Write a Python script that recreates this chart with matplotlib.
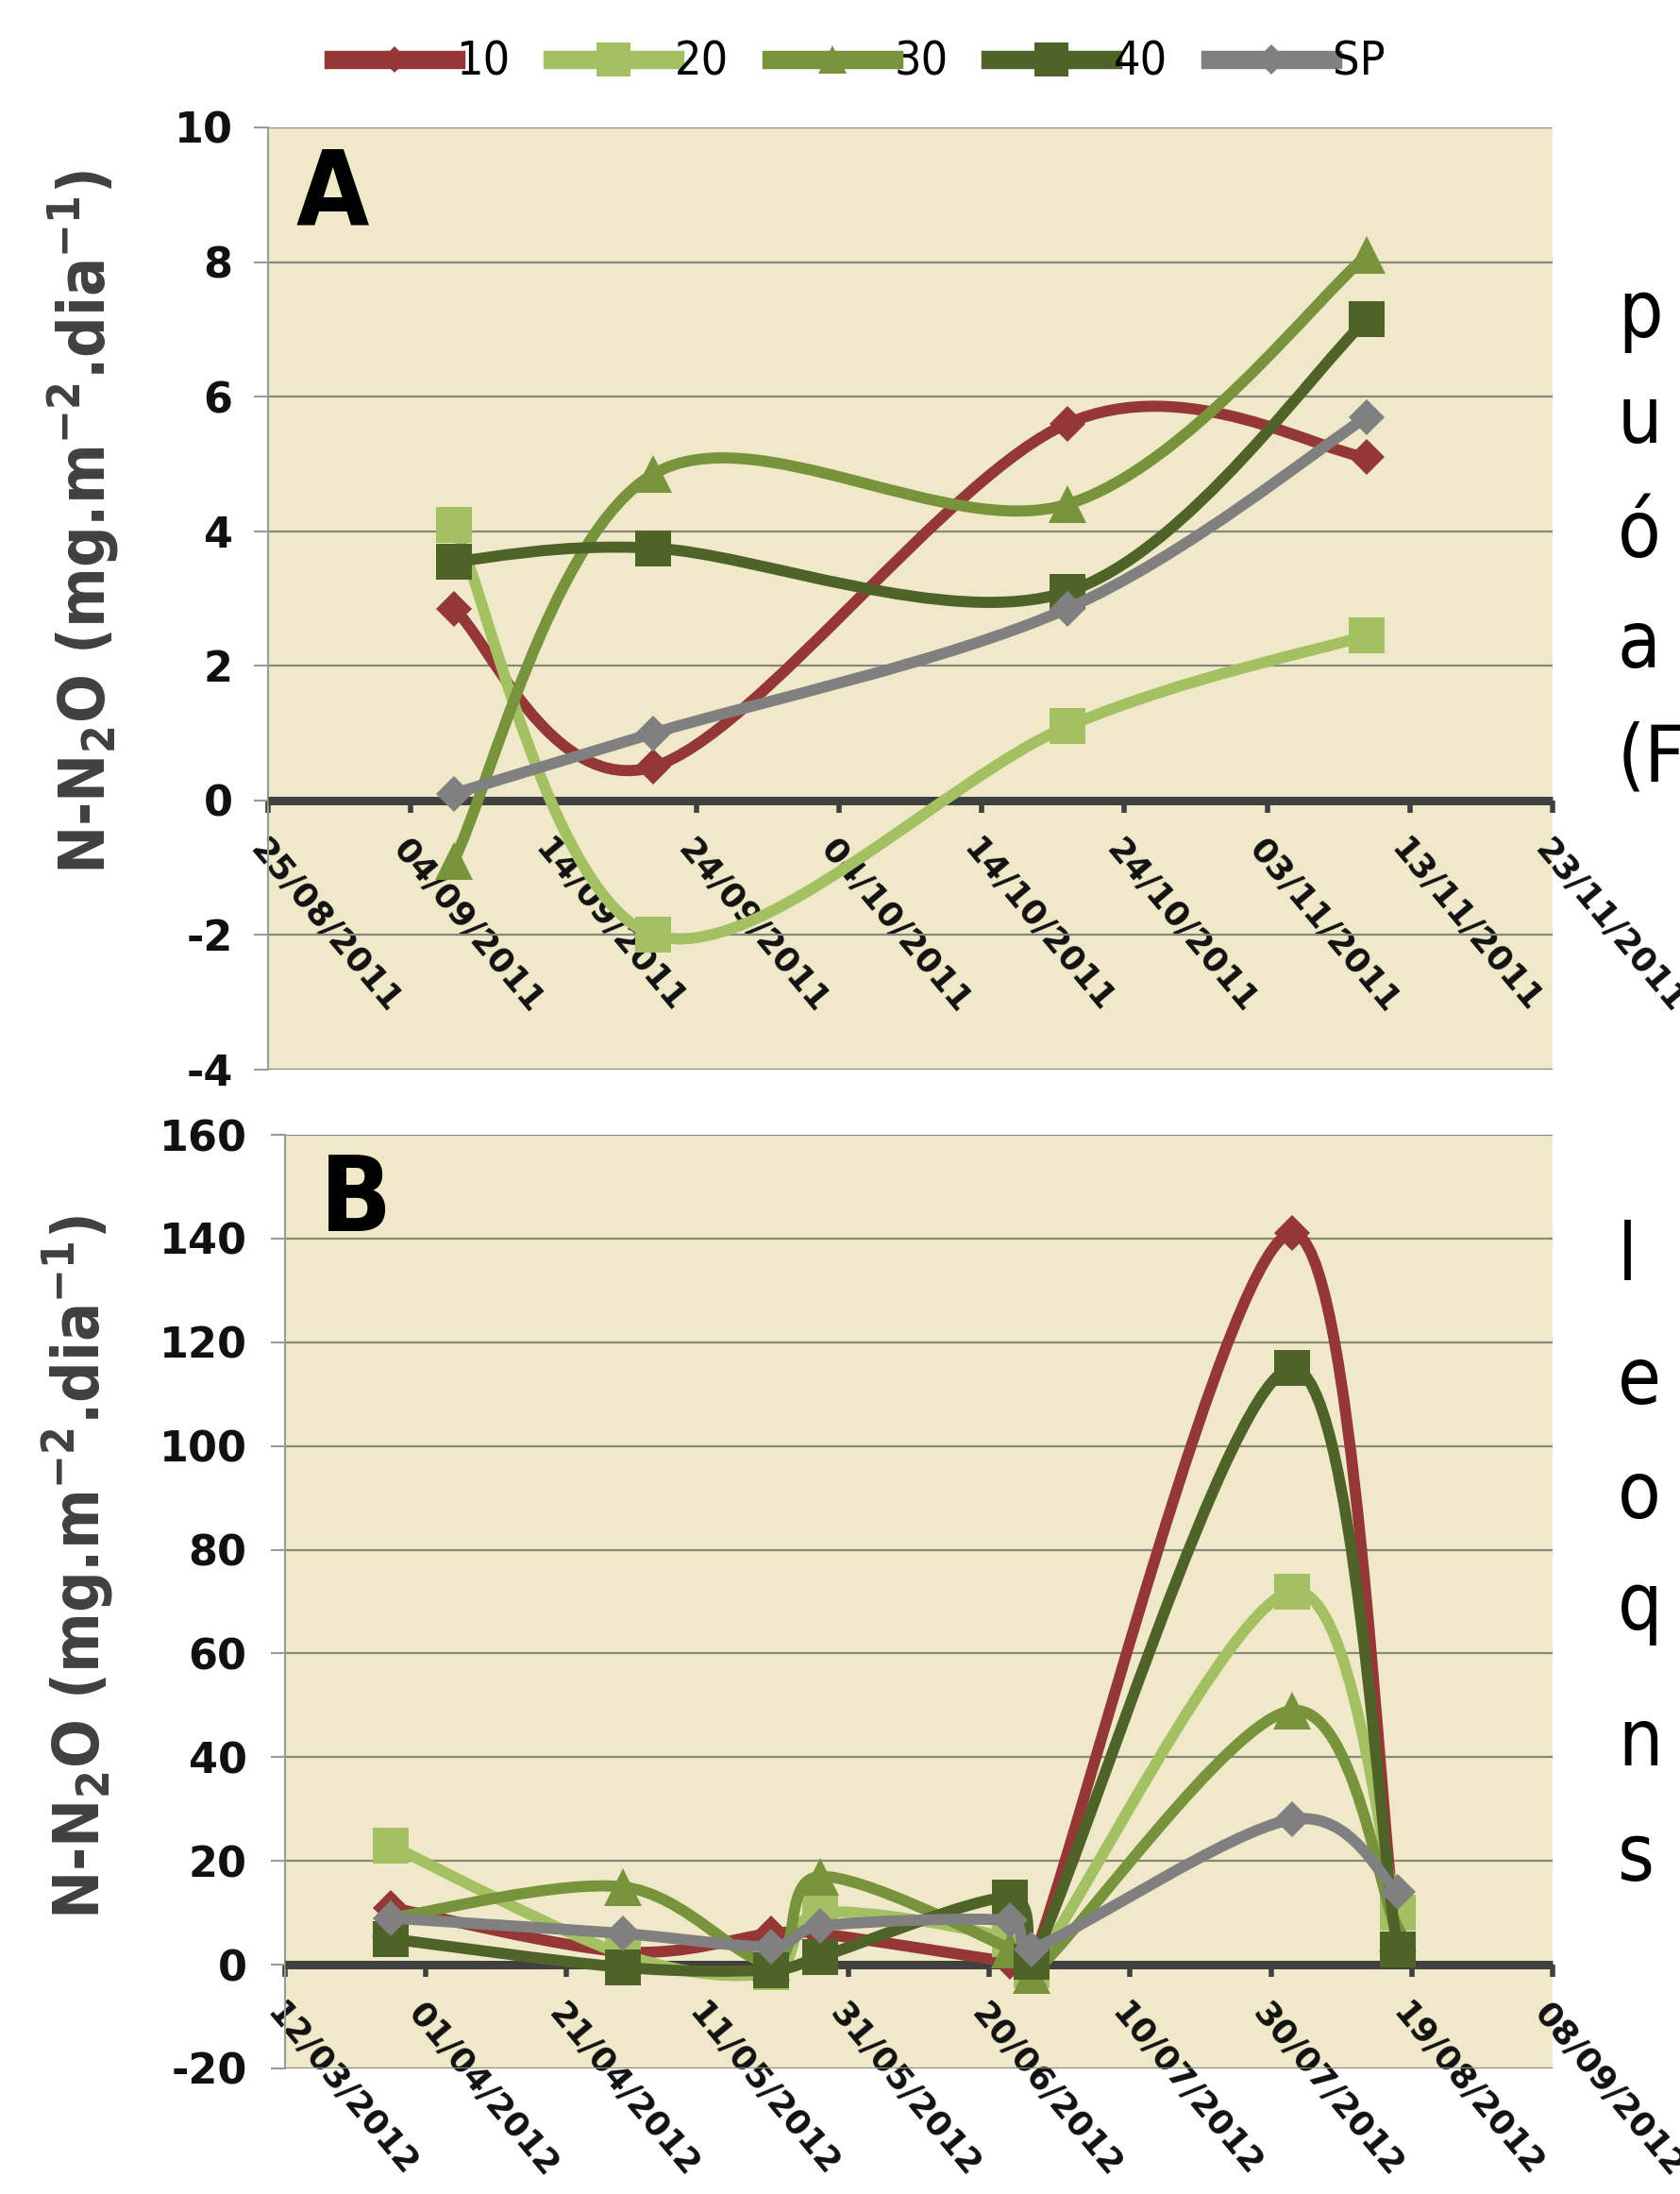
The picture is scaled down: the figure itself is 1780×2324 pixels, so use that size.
import datetime as dt

import matplotlib
matplotlib.use("Agg")
import matplotlib.dates as mdates
import matplotlib.pyplot as plt
import numpy as np
from matplotlib import font_manager
from matplotlib.lines import Line2D
from matplotlib.patches import PathPatch
from matplotlib.path import Path

# series (legend order)
LABELS = ["10", "20", "30", "40", "SP"]
COLORS = ["#953735", "#A3C163", "#77933C", "#4F6228", "#808080"]
MARKERS = ["D", "s", "^", "s", "D"]

# panel A - 2011
DATES_A = ["07/09/2011", "21/09/2011", "20/10/2011", "10/11/2011"]
A_10 = [2.85, 0.5, 5.6, 5.1]
A_20 = [4.1, -2.0, 1.1, 2.45]
A_30 = [-0.9, 4.85, 4.4, 8.1]
A_40 = [3.55, 3.75, 3.1, 7.15]
A_SP = [0.1, 1.0, 2.85, 5.7]

# panel B - 2012
DATES_B = ["27/03/2012", "29/04/2012", "20/05/2012", "27/05/2012",
           "23/06/2012", "26/06/2012", "02/08/2012", "17/08/2012"]
B_10 = [11, 2.5, 6, 6, 0.5, 0, 141, 3]
B_20 = [23, 2, -1.5, 10, 5, -1, 72, 10]
B_30 = [9, 15, 0.5, 17, 3, -2, 49, 6]
B_40 = [5, -0.5, -1, 1.5, 13, 0.5, 115, 3]
B_SP = [9, 6, 3.5, 7.5, 8.5, 3, 28, 14]

# first letters of the page text that runs past the right border
SIDE_TEXT_A = ["p", "u", "ó", "a", "(F"]
SIDE_TEXT_B = ["l", "e", "o", "q", "n", "s"]

W, H = 1780, 2324
BG = "#F0E9C9"
GRID = "#87877C"
DARK = "#404040"

plt.rcParams["axes.unicode_minus"] = False
plt.rcParams["mathtext.default"] = "regular"


def weight_num(w):
    if isinstance(w, (int, float)):
        return int(w)
    return font_manager.weight_dict.get(str(w).lower(), 400)


def pick_narrow():
    # a narrow/condensed family, preferring one that also has a bold face
    found = {}
    for f in font_manager.fontManager.ttflist:
        if "Narrow" in f.name or "Condensed" in f.name:
            key = (f.name, "normal")
        elif f.stretch in ("condensed", "semi-condensed", "extra-condensed"):
            key = (f.name, f.stretch)
        else:
            continue
        found.setdefault(key, set()).add(weight_num(f.weight))
    regular = next(iter(found), ("Liberation Sans", "normal"))
    bold = next((k for k, ws in found.items() if max(ws) >= 600), None)
    return regular, bold


(REG_NAME, REG_STRETCH), BOLD_KEY = pick_narrow()
NARROW_FONT = {"family": [REG_NAME, "DejaVu Sans"], "stretch": REG_STRETCH}
if BOLD_KEY:
    BOLD_FONT = {"family": [BOLD_KEY[0], "DejaVu Sans"], "stretch": BOLD_KEY[1]}
    BOLD_SCALE = 1.0
else:
    BOLD_FONT = {"family": ["Liberation Sans", "DejaVu Sans"]}
    BOLD_SCALE = 0.86


def to_num(dates):
    return [mdates.date2num(dt.datetime.strptime(d, "%d/%m/%Y")) for d in dates]


def smooth_path(x, y, sx, sy):
    # smoothed line: Catmull-Rom Bezier segments (screen space), handles kept shorter
    # than half of their segment so that short steps do not overshoot
    p = np.column_stack([np.asarray(x) * sx, np.asarray(y) * sy])
    n = len(p)
    m = [(p[min(i + 1, n - 1)] - p[max(i - 1, 0)]) / 6 for i in range(n)]

    def clamp(v, limit):
        size = np.hypot(*v)
        return v if size <= limit or size == 0 else v * (limit / size)

    verts = [p[0]]
    codes = [Path.MOVETO]
    for i in range(n - 1):
        half = 0.5 * np.hypot(*(p[i + 1] - p[i]))
        verts += [p[i] + clamp(m[i], half), p[i + 1] - clamp(m[i + 1], half), p[i + 1]]
        codes += [Path.CURVE4] * 3
    return Path(np.array(verts) / [sx, sy], codes)


def px_axes(fig, left, top, right, bottom):
    return fig.add_axes([left / W, 1 - bottom / H, (right - left) / W, (bottom - top) / H])


def style_axes(ax, start, n_ticks, step, ylim, ystep, ypad):
    ax.spines["bottom"].set_position(("data", 0))
    first = dt.datetime.strptime(start, "%d/%m/%Y")
    ticks = [first + dt.timedelta(days=step * i) for i in range(n_ticks)]
    ax.set_facecolor(BG)
    ax.set_xlim(mdates.date2num(ticks[0]), mdates.date2num(ticks[-1]))
    ax.set_ylim(*ylim)
    ax.set_yticks(np.arange(ylim[0], ylim[1] + 0.001, ystep))
    ax.set_xticks([mdates.date2num(t) for t in ticks])
    ax.set_xticklabels([t.strftime("%d/%m/%Y") for t in ticks], rotation=-50, ha="left", va="top",
                       rotation_mode="anchor", fontsize=26, fontweight="bold", color="#111111")
    for lab in ax.get_yticklabels():
        lab.set_fontweight("bold")
    ax.spines["bottom"].set_color(DARK)
    ax.spines["bottom"].set_linewidth(6.5)
    ax.spines["bottom"].set_capstyle("butt")
    ax.spines["top"].set_visible(False)
    ax.spines["right"].set_visible(False)
    ax.spines["left"].set_color("#9A9A9A")
    ax.spines["left"].set_linewidth(1.5)
    ax.grid(axis="y", color=GRID, linewidth=1.6)
    ax.set_axisbelow(True)
    ax.tick_params(axis="x", direction="out", length=9, width=4, color=DARK, pad=16)
    ax.tick_params(axis="y", direction="out", length=11, width=1.5, color="#9A9A9A",
                   pad=ypad, labelsize=32, labelcolor="#111111")


def draw_series(ax, dates, series):
    x = to_num(dates)
    x0, x1 = ax.get_xlim()
    y0, y1 = ax.get_ylim()
    bbox = ax.get_position()
    sx = bbox.width * W / (x1 - x0)
    sy = bbox.height * H / (y1 - y0)
    for i, (vals, color, marker) in enumerate(zip(series, COLORS, MARKERS)):
        z = 3 + i * 0.1
        ax.add_patch(PathPatch(smooth_path(x, vals, sx, sy), fill=False, edgecolor=color,
                               linewidth=8.5, capstyle="round", joinstyle="round", zorder=z))
        ms = 19 if marker == "D" else (29 if marker == "^" else 27)
        ax.plot(x, vals, linestyle="none", marker=marker, markersize=ms, color=color,
                markeredgewidth=0, zorder=z + 0.05, clip_on=False)


fig = plt.figure(figsize=(W / 100, H / 100), dpi=100)

ax_a = px_axes(fig, 284, 135, 1645, 1133)
style_axes(ax_a, "25/08/2011", 10, 10, (-4, 10), 2, 16)
draw_series(ax_a, DATES_A, [A_10, A_20, A_30, A_40, A_SP])

ax_b = px_axes(fig, 302, 1202, 1645, 2191)
style_axes(ax_b, "12/03/2012", 10, 20, (-20, 160), 20, 18)
draw_series(ax_b, DATES_B, [B_10, B_20, B_30, B_40, B_SP])

ylabel = r"N-N$_{2}$O (mg.m$^{-2}$.dia$^{-1}$)"
fig.text(88 / W, 1 - 553 / H, ylabel, rotation=90, ha="center", va="center",
         fontsize=49 * BOLD_SCALE, fontweight="bold", color=DARK, **BOLD_FONT)
fig.text(82 / W, 1 - 1660 / H, ylabel, rotation=90, ha="center", va="center",
         fontsize=49 * BOLD_SCALE, fontweight="bold", color=DARK, **BOLD_FONT)

fig.text(314 / W, 1 - 239 / H, "A", fontsize=80 * BOLD_SCALE, fontweight="bold", color="black",
         va="baseline", ha="left", **BOLD_FONT)
fig.text(339 / W, 1 - 1304 / H, "B", fontsize=80 * BOLD_SCALE, fontweight="bold", color="black",
         va="baseline", ha="left", **BOLD_FONT)

# legend
legend_ms = [14, 26, 22, 26, 16]
handles = [Line2D([], [], color=c, linewidth=14, marker=m, markersize=s, markeredgewidth=0)
           for c, m, s in zip(COLORS, MARKERS, legend_ms)]
fig.legend(handles, LABELS, loc="center", bbox_to_anchor=(910 / W, 1 - 66 / H), ncol=5,
           frameon=False, handlelength=2.6, handletextpad=0.0, columnspacing=0.9,
           prop={"family": NARROW_FONT["family"], "stretch": REG_STRETCH, "size": 36})

# page text cut by the right border
for txt, base in zip(SIDE_TEXT_A, [357, 469, 590, 707, 828]):
    fig.text(1714 / W, 1 - base / H, txt, fontsize=60, va="baseline", ha="left",
             color="black", **NARROW_FONT)
for txt, base in zip(SIDE_TEXT_B, [1356, 1487, 1608, 1726, 1870, 1992]):
    fig.text(1714 / W, 1 - base / H, txt, fontsize=60, va="baseline", ha="left",
             color="black", **NARROW_FONT)

fig.savefig("out.png", dpi=100)
